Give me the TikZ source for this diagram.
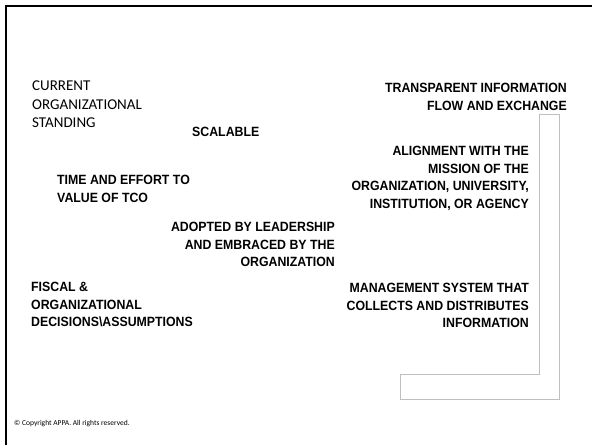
\documentclass[tikz,border=0pt]{standalone}
\usepackage{fontspec}
\setmainfont{Carlito}
\newfontfamily\headfont{Liberation Sans}[FakeStretch=0.92]
\usetikzlibrary{positioning}

\begin{document}
\begin{tikzpicture}[x=1pt,y=-1pt,
    plain/.style={inner sep=0pt, align=left, font=\fontsize{15}{18.5}\selectfont},
    heading/.style={inner sep=0pt, font=\headfont\fontsize{13.4}{17.5}\selectfont\bfseries},
    note/.style={inner sep=0pt, font=\fontsize{7.5}{8}\selectfont}]
                \useasboundingbox (0,0) rectangle (592,445);
                % frame
                \draw[line width=2.7pt] (6,445) -- (6,6) -- (592,6);
                % grey bracket
                \draw[gray!50, line width=0.8pt] (539,114) -- (559,114) -- (559,399) -- (400,399) -- (400,374) -- (539,374) -- cycle;
                % left column
                \node[plain, anchor=north west] (current) at (32,81) {CURRENT\\ORGANIZATIONAL\\STANDING};
                \node[heading, anchor=north west] (scalable) at (192,127) {SCALABLE};
                \node[heading, align=left, anchor=north west] (timeeffort) at (57,175) {TIME AND EFFORT TO\\VALUE OF TCO};
                \node[heading, align=right, anchor=north east] (adopted) at (335,222) {ADOPTED BY LEADERSHIP\\AND EMBRACED BY THE\\ORGANIZATION};
                \node[heading, align=left, anchor=north west] (fiscal) at (31,282) {FISCAL \&\\ORGANIZATIONAL\\DECISIONS\textbackslash ASSUMPTIONS};
                % right column
                \node[heading, align=right, anchor=north east] (transparent) at (567,83) {TRANSPARENT INFORMATION\\FLOW AND EXCHANGE};
                \node[heading, align=right, anchor=north east] (alignment) at (529,146) {ALIGNMENT WITH THE\\MISSION OF THE\\ORGANIZATION, UNIVERSITY,\\INSTITUTION, OR AGENCY};
                \node[heading, align=right, anchor=north east] (management) at (529,283) {MANAGEMENT SYSTEM THAT\\COLLECTS AND DISTRIBUTES\\INFORMATION};
                \node[note, anchor=west] (copyright) at (14,424) {\textcopyright{} Copyright APPA. All rights reserved.};
            \end{tikzpicture}
\end{document}
